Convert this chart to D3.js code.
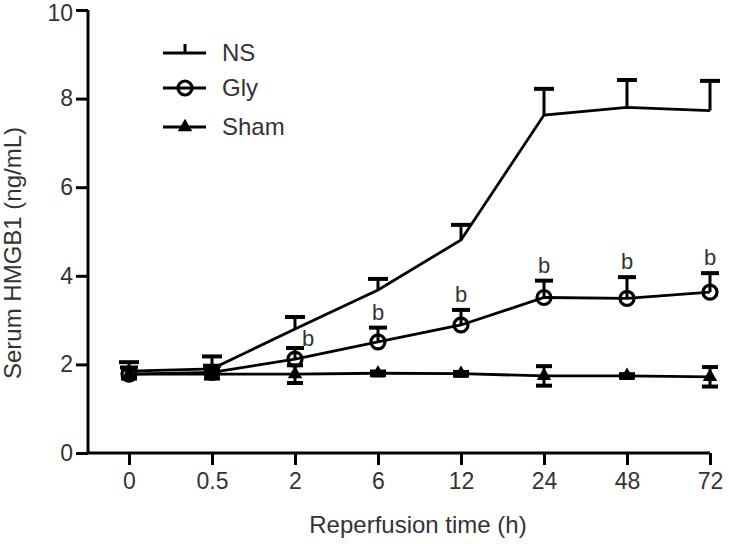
<!DOCTYPE html>
<html><head><meta charset="utf-8">
<script src="https://cdn.jsdelivr.net/npm/d3@7"></script>
<style>
html,body{margin:0;padding:0;background:#fff;}
text{font-family:"Liberation Sans",Arial,Helvetica,sans-serif;fill:#333;}
</style></head>
<body><svg id="c" width="729" height="544"></svg>
<script>
const categories = ["0","0.5","2","6","12","24","48","72"];
const nsMean  = [1.85,1.90,2.80,3.68,4.81,7.63,7.80,7.73];
const nsSD    = [0.20,0.28,0.27,0.25,0.34,0.59,0.62,0.67];
const glyMean = [1.78,1.82,2.12,2.51,2.89,3.51,3.49,3.63];
const glySD   = [0.15,0.15,0.25,0.32,0.34,0.38,0.48,0.43];
const shamMean= [1.78,1.78,1.78,1.80,1.79,1.74,1.74,1.72];
const shamSD  = [0.10,0.10,0.20,0.04,0.04,0.22,0.04,0.22];
const bMarks  = ["","","b","b","b","b","b","b"];
const yTicks  = [0,2,4,6,8,10];
const legendLabels = ["NS","Gly","Sham"];

const svg = d3.select("#c");
const x = d3.scalePoint().domain(categories).range([129,710]);
const y = d3.scaleLinear().domain([0,10]).range([453,10]);

// axes
const yAxis = svg.append("g").attr("transform","translate(88,0)")
  .call(d3.axisLeft(y).tickValues(yTicks).tickSize(12).tickPadding(3).tickSizeOuter(0));
const xAxis = svg.append("g").attr("transform","translate(0,453)")
  .call(d3.axisBottom(x).tickSize(12).tickPadding(8).tickSizeOuter(0));
[yAxis,xAxis].forEach(g=>{
  g.select(".domain").attr("stroke","#000").attr("stroke-width",3);
  g.selectAll(".tick line").attr("stroke","#000").attr("stroke-width",3);
  g.selectAll(".tick text").style("font-size","23px").attr("fill","#333");
});
yAxis.selectAll(".tick text").filter(d=>d===10).attr("dy","0.45em");
xAxis.select(".domain").attr("d","M88,0H710");
yAxis.select(".domain").attr("d","M0,10V453");

// axis titles
svg.append("text").attr("x",418).attr("y",533).attr("text-anchor","middle")
  .style("font-size","24px").text("Reperfusion time (h)");
svg.append("text").attr("transform","translate(21,253) rotate(-90)").attr("text-anchor","middle")
  .style("font-size","24px").text("Serum HMGB1 (ng/mL)");

const line = d3.line().x((d,i)=>x(categories[i])).y(d=>y(d));
const plot = svg.append("g");

function errBars(mean, sd, cap, both){
  const g = plot.append("g").attr("stroke","#000").attr("stroke-width",3);
  mean.forEach((m,i)=>{
    const cx = x(categories[i]);
    g.append("line").attr("x1",cx).attr("x2",cx).attr("y1",y(m)).attr("y2",y(m+sd[i]));
    g.append("line").attr("x1",cx-cap).attr("x2",cx+cap).attr("y1",y(m+sd[i])).attr("y2",y(m+sd[i])).attr("stroke-width",4);
    if(both){
      g.append("line").attr("x1",cx).attr("x2",cx).attr("y1",y(m)).attr("y2",y(m-sd[i]));
      g.append("line").attr("x1",cx-cap).attr("x2",cx+cap).attr("y1",y(m-sd[i])).attr("y2",y(m-sd[i])).attr("stroke-width",4);
    }
  });
}

[nsMean,glyMean,shamMean].forEach(s=>{
  plot.append("path").datum(s).attr("d",line).attr("fill","none").attr("stroke","#000").attr("stroke-width",2.8);
});
errBars(shamMean, shamSD, 8, true);
errBars(glyMean, glySD, 9, false);
errBars(nsMean, nsSD, 10, false);

const tri = d3.symbol().type(d3.symbolTriangle).size(90);
plot.selectAll(".sham").data(shamMean).join("path")
  .attr("transform",(d,i)=>`translate(${x(categories[i])},${y(d)})`).attr("d",tri).attr("fill","#000");
plot.selectAll(".gly").data(glyMean).join("circle")
  .attr("cx",(d,i)=>x(categories[i])).attr("cy",d=>y(d)).attr("r",7)
  .attr("fill","none").attr("stroke","#000").attr("stroke-width",3.2);

// significance marks
plot.selectAll(".b").data(bMarks).join("text")
  .attr("x",(d,i)=>x(categories[i]) + (i===2?13:0))
  .attr("y",(d,i)=> i===2 ? y(glyMean[i]+glySD[i]) - 2 : y(glyMean[i]+glySD[i]) - 8)
  .attr("text-anchor","middle").style("font-size","22px").text(d=>d);

// legend
const lg = svg.append("g");
const ly = [53,88,127];
legendLabels.forEach((lab,i)=>{
  lg.append("line").attr("x1",163).attr("x2",206).attr("y1",ly[i]).attr("y2",ly[i]).attr("stroke","#000").attr("stroke-width",3);
  lg.append("text").attr("x",222).attr("y",ly[i]+8).style("font-size","24px").text(lab);
});
lg.append("line").attr("x1",185).attr("x2",185).attr("y1",ly[0]).attr("y2",ly[0]-9).attr("stroke","#000").attr("stroke-width",3);
lg.append("circle").attr("cx",185).attr("cy",ly[1]).attr("r",7).attr("fill","none").attr("stroke","#000").attr("stroke-width",3.2);
lg.append("path").attr("transform",`translate(185,${ly[2]})`).attr("d",tri).attr("fill","#000");
</script></body></html>
